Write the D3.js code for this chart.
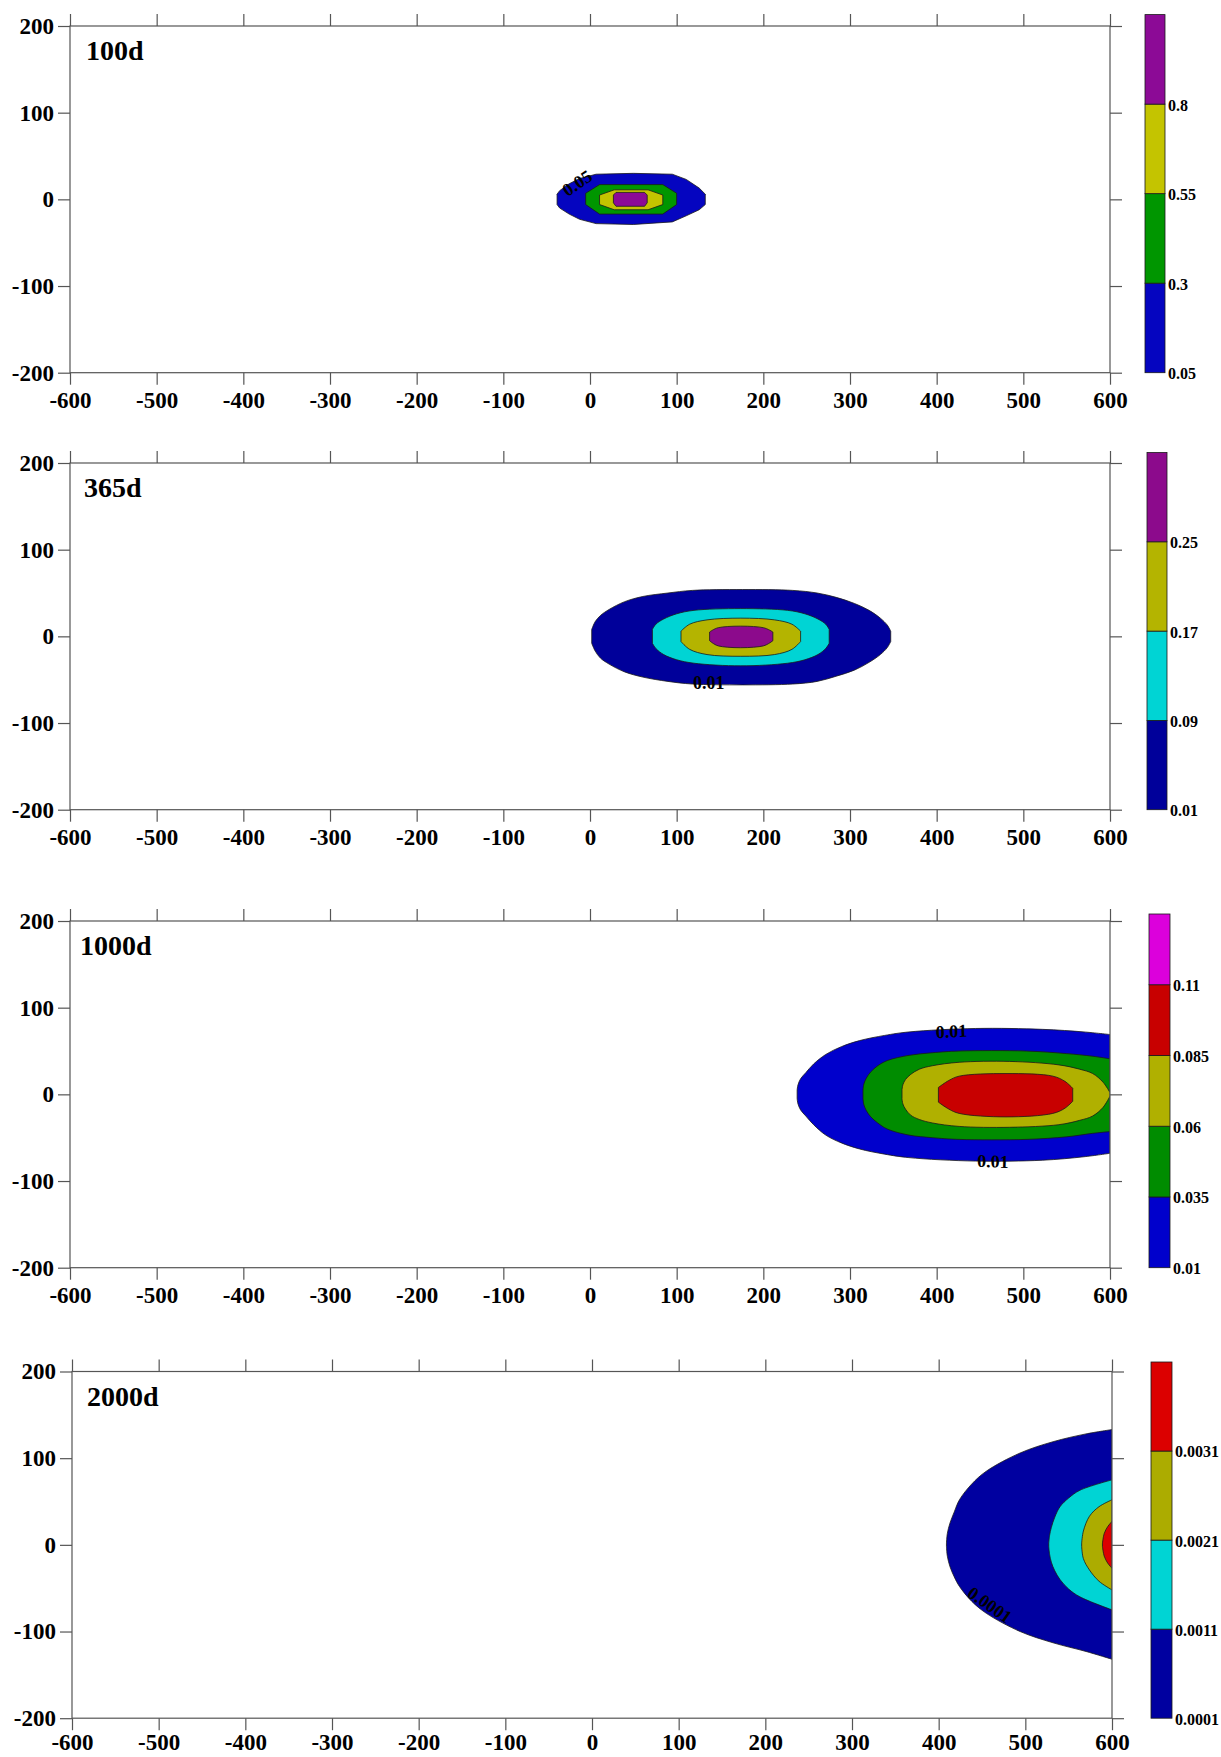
<!DOCTYPE html>
<html>
<head>
<meta charset="utf-8">
<script src="https://cdn.jsdelivr.net/npm/d3@7"></script>
<style>
  body { margin: 0; background: #fff; }
  text { font-family: "Liberation Serif", "Times New Roman", serif; font-weight: bold; fill: #000; }
</style>
</head>
<body>
<div id="chart"></div>
<script>
// axis ticks (same for every panel)
const xTicks = [-600, -500, -400, -300, -200, -100, 0, 100, 200, 300, 400, 500, 600];
const yTicks = [-200, -100, 0, 100, 200];

const panelNames = ["100d", "365d", "1000d", "2000d"];

// contour levels per panel (colorbar breaks)
const levels100 = [0.05, 0.3, 0.55, 0.8];
const levels365 = [0.01, 0.09, 0.17, 0.25];
const levels1000 = [0.01, 0.035, 0.06, 0.085, 0.11];
const levels2000 = [0.0001, 0.0011, 0.0021, 0.0031];

// contour outlines: [x, yTop, yBottom], outer level first
const contours100 = [
  [[-38, 6, -6], [-35, 10, -10], [-24, 18, -17], [-12, 24, -23], [7, 29, -28], [50, 30, -29], [95, 29, -26], [111, 23, -19], [126, 13, -12], [133, 6, -6]],
  [[-5, 7, -6], [11, 17, -17], [84, 17, -17], [100, 7, -6]],
  [[11, 5, -6], [28, 11, -12], [67, 11, -12], [84, 5, -6]],
  [[27, 5, -4], [30, 8, -8], [63, 8, -8], [66, 5, -4]]
];
const contours365 = [
  [[2, 8, -8], [6, 17, -17], [12, 24, -25], [22, 31, -32], [40, 40, -41], [61, 46, -47], [90, 50, -52], [118, 53, -55], [176, 54, -56],
   [234, 53, -55], [262, 50, -52], [284, 45, -46], [305, 38, -39], [322, 30, -30], [335, 21, -21], [343, 13, -13], [347, 6, -6]],
  [[72, 8, -8], [76, 14, -14], [85, 20, -21], [100, 26, -27], [120, 30, -31], [174, 32, -34], [228, 30, -31], [248, 26, -27], [263, 20, -21], [272, 14, -14], [276, 8, -8]],
  [[105, 6, -6], [115, 14, -15], [135, 19, -21], [174, 21, -23], [213, 19, -21], [233, 14, -15], [243, 6, -6]],
  [[138, 5, -5], [148, 10, -11], [200, 10, -11], [211, 5, -5]]
];
const contours1000 = [
  [[239, 5, -5], [240, 11, -11], [243, 18, -18], [249, 25, -25], [258, 35, -35], [272, 46, -47], [290, 55, -56], [311, 62, -63],
   [340, 68, -69], [368, 72, -73], [445, 76, -77], [522, 75, -76], [570, 72, -72], [600, 69, -68]],
  [[315, 5, -5], [316, 12, -12], [319, 19, -19], [324, 26, -26], [332, 33, -33], [343, 39, -40], [368, 45, -47], [395, 48, -50],
   [426, 50, -52], [503, 50, -52], [550, 47, -49], [580, 44, -45], [600, 41, -43]],
  [[360, 5, -5], [361, 11, -11], [364, 17, -17], [370, 23, -24], [380, 29, -29], [395, 33, -33], [426, 37, -37], [484, 38, -38],
   [541, 34, -35], [565, 29, -30], [580, 24, -25], [592, 14, -15], [600, 2, -2]],
  [[402, 8, -9], [414, 16, -17], [426, 21, -22], [480, 24, -26], [534, 21, -22], [548, 15, -16], [557, 7, -8]]
];
const contours2000 = [
  [[409, 2, -2], [410, 13, -13], [413, 25, -25], [418, 38, -37], [424, 52, -48], [438, 70, -65], [455, 85, -79], [494, 106, -100],
   [532, 119, -113], [570, 128, -123], [600, 133, -132]],
  [[527, 2, -2], [528, 11, -11], [530, 20, -20], [534, 32, -30], [540, 44, -40], [550, 54, -51], [563, 63, -60], [600, 75, -75]],
  [[565, 2, -2], [567, 16, -16], [574, 33, -29], [585, 44, -42], [600, 52, -52]],
  [[589, 2, -2], [591, 13, -13], [595, 21, -21], [600, 27, -27]]
];

// contour labels: text, x, y (data units), angle
const labels100 = [["0.05", -15, 19, -34]];
const labels365 = [["0.01", 137, -54, 0]];
const labels1000 = [["0.01", 417, 73, -3], ["0.01", 465, -77, 2]];
const labels2000 = [["0.0001", 459, -69, 35]];

// colours of the bands (lowest first, last one is the colorbar top)
const colors100 = ["#0505c0", "#009600", "#c4c400", "#8c0a96"];
const colors365 = ["#00009a", "#00d4d4", "#b4b400", "#8c0a8c"];
const colors1000 = ["#0000cc", "#008c00", "#b0b000", "#c80000", "#dc00dc"];
const colors2000 = ["#0000a0", "#00d4d4", "#acac00", "#dc0000"];

const panels = [
  { name: panelNames[0], levels: levels100, contours: contours100, labels: labels100, colors: colors100,
    top: 26, left: 70, right: 1110, labelDx: 16, barX: 1145, barTop: 14.6, barW: 20, smooth: false, xPad: 7 },
  { name: panelNames[1], levels: levels365, contours: contours365, labels: labels365, colors: colors365,
    top: 463, left: 70, right: 1110, labelDx: 14, barX: 1147, barTop: 452.5, barW: 20, smooth: true, xPad: 7 },
  { name: panelNames[2], levels: levels1000, contours: contours1000, labels: labels1000, colors: colors1000,
    top: 921, left: 70, right: 1110, labelDx: 10, barX: 1149, barTop: 914, barW: 21, smooth: true, xPad: 7 },
  { name: panelNames[3], levels: levels2000, contours: contours2000, labels: labels2000, colors: colors2000,
    top: 1371.5, left: 72, right: 1112, labelDx: 15, barX: 1151, barTop: 1362, barW: 21, smooth: true, xPad: 3 }
];

const plotH = 346.7;
const tickLen = 12;

const svg = d3.select("#chart").append("svg")
  .attr("width", 1221)
  .attr("height", 1757);

panels.forEach((p, i) => drawPanel(p, i));

function drawPanel(p, idx) {
  const bottom = p.top + plotH;
  const x = d3.scaleLinear().domain([-600, 600]).range([p.left, p.right]);
  const y = d3.scaleLinear().domain([-200, 200]).range([bottom, p.top]);

  const g = svg.append("g");

  // clip to the plot area
  const clipId = "clip" + idx;
  svg.append("clipPath").attr("id", clipId)
    .append("rect")
    .attr("x", p.left).attr("y", p.top)
    .attr("width", p.right - p.left).attr("height", plotH);

  const area = d3.area()
    .x(d => x(d[0]))
    .y0(d => y(d[2]))
    .y1(d => y(d[1]))
    .curve(p.smooth ? d3.curveCatmullRom.alpha(0.5) : d3.curveLinear);

  g.append("g").attr("clip-path", `url(#${clipId})`)
    .selectAll("path")
    .data(p.contours)
    .enter()
    .append("path")
    .attr("d", area)
    .attr("fill", (d, i) => p.colors[i])
    .attr("stroke", "#1a1a1a")
    .attr("stroke-width", 0.8);

  // contour labels
  g.selectAll(".clabel")
    .data(p.labels)
    .enter()
    .append("text")
    .attr("class", "clabel")
    .attr("transform", d => `translate(${x(d[1])},${y(d[2])}) rotate(${d[3]})`)
    .attr("text-anchor", "middle")
    .attr("dy", "0.35em")
    .style("font-size", "18px")
    .text(d => d[0]);

  // axes
  const fmt = d => String(d);
  const axes = [
    { ax: d3.axisBottom(x).tickValues(xTicks).tickSize(tickLen).tickPadding(p.xPad).tickFormat(fmt), t: `translate(0,${bottom})` },
    { ax: d3.axisTop(x).tickValues(xTicks).tickSize(tickLen).tickFormat(""), t: `translate(0,${p.top})` },
    { ax: d3.axisLeft(y).tickValues(yTicks).tickSize(tickLen).tickPadding(4).tickFormat(fmt), t: `translate(${p.left},0)` },
    { ax: d3.axisRight(y).tickValues(yTicks).tickSize(tickLen).tickFormat(""), t: `translate(${p.right},0)` }
  ];
  axes.forEach(a => {
    const ag = g.append("g").attr("transform", a.t).call(a.ax);
    ag.select(".domain").remove();
    ag.selectAll("line").attr("stroke", "#555").attr("stroke-width", 1.2);
    ag.selectAll("text").style("font-size", "23px")
      .style("font-family", "'Liberation Serif', 'Times New Roman', serif")
      .style("font-weight", "bold").attr("fill", "#000");
  });

  // frame
  g.append("rect")
    .attr("x", p.left).attr("y", p.top)
    .attr("width", p.right - p.left).attr("height", plotH)
    .attr("fill", "none")
    .attr("stroke", "#555")
    .attr("stroke-width", 1.2);

  // panel name
  g.append("text")
    .attr("x", p.left + p.labelDx)
    .attr("y", p.top + 34)
    .style("font-size", "28px")
    .text(p.name);

  // colorbar
  const n = p.levels.length;
  const cb = d3.scaleLinear().domain([0, n]).range([bottom, p.barTop]);
  g.selectAll(".band")
    .data(p.colors)
    .enter()
    .append("rect")
    .attr("class", "band")
    .attr("x", p.barX)
    .attr("y", (d, i) => cb(i + 1))
    .attr("width", p.barW)
    .attr("height", (d, i) => cb(i) - cb(i + 1))
    .attr("fill", d => d)
    .attr("stroke", "#1a1a1a")
    .attr("stroke-width", 0.8);

  g.selectAll(".cblabel")
    .data(p.levels)
    .enter()
    .append("text")
    .attr("class", "cblabel")
    .attr("x", p.barX + p.barW + 3)
    .attr("y", (d, i) => cb(i))
    .attr("dy", "0.4em")
    .style("font-size", "16px")
    .text(d => String(d));
}
</script>
</body>
</html>
